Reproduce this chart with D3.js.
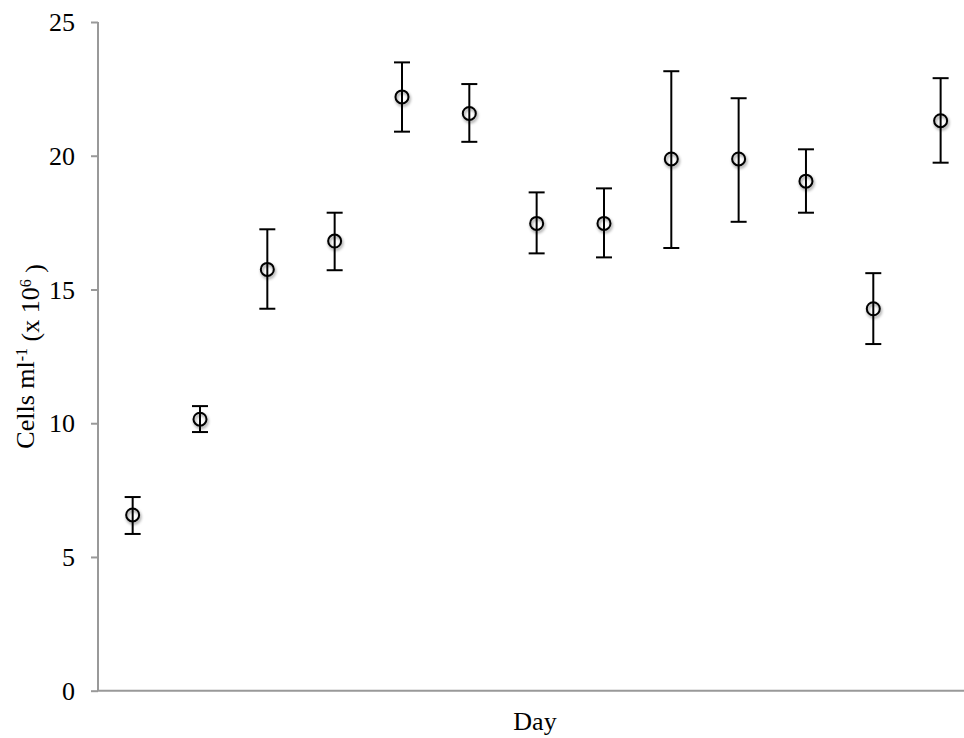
<!DOCTYPE html>
<html>
<head>
<meta charset="utf-8">
<script src="https://cdn.jsdelivr.net/npm/d3@7"></script>
<style>
  body { margin:0; background:#fff; }
  .textos { font-family:"Liberation Serif","Times New Roman",serif; fill:#000; }
</style>
</head>
<body>
<div id="zona_grafica"></div>
<script>
// datos
var dias  = ["1","2","3","4","5","6","7","8","9","10","11","12","13"]
var media = [6.57, 10.15, 15.75, 16.81, 22.2, 21.58, 17.47, 17.47, 19.88, 19.88, 19.05, 14.28, 21.31]
var sup   = [7.24, 10.64, 17.25, 17.87, 23.49, 22.68, 18.63, 18.78, 23.16, 22.15, 20.24, 15.61, 22.9]
var inf   = [5.86, 9.67, 14.28, 15.72, 20.9, 20.52, 16.35, 16.2, 16.55, 17.53, 17.87, 12.96, 19.74]
var ticksY = [0, 5, 10, 15, 20, 25]

var width = 964, height = 738
var margin = {top:22, left:98, bottom:690.7}

var datos = dias.map((d,i)=>({dia:d, m:media[i], s:sup[i], inf:inf[i]}))

var escalaX = d3.scaleBand()
    .domain(dias)
    .range([99, 99 + 13*67.33])

var escalaY = d3.scaleLinear()
    .domain([0, 25])
    .range([margin.bottom, margin.top])

var svg = d3.select("#zona_grafica")
    .append("svg")
    .attr("width", width)
    .attr("height", height)

// sombra de los circulos
svg.append("defs")
    .append("filter")
    .attr("id","sombra")
    .attr("x","-50%").attr("y","-50%").attr("width","200%").attr("height","200%")
    .append("feDropShadow")
    .attr("dx",1).attr("dy",2).attr("stdDeviation",1.8)
    .attr("flood-color","#000").attr("flood-opacity",0.45)

//Eje Y
var ejeY = d3.axisLeft(escalaY)
    .tickValues(ticksY)
    .tickSize(7)
    .tickPadding(16)
    .tickFormat(d3.format("d"))

var gY = svg.append("g")
    .attr("class","ejeY textos")
    .attr("transform","translate("+margin.left+",0)")
    .call(ejeY)
gY.select(".domain")
    .attr("fill","none")
    .attr("stroke","#999").attr("stroke-width",2)
    .attr("d","M0,"+margin.top+"V"+margin.bottom)
gY.selectAll(".tick line").attr("stroke","#999").attr("stroke-width",2)
gY.selectAll(".tick text")
    .attr("class","textos")
    .style("font-size","26px")
    .attr("dy","0.33em")

//Eje X (sin etiquetas)
svg.append("line")
    .attr("x1", margin.left - 1).attr("x2", width)
    .attr("y1", margin.bottom).attr("y2", margin.bottom)
    .attr("stroke","#999").attr("stroke-width",2)

//Titulos ejes
svg.append("text")
    .attr("class","textos")
    .attr("x", 535).attr("y", 730)
    .attr("text-anchor","middle")
    .style("font-size","26px")
    .text("Day")

var tituloY = svg.append("text")
    .attr("class","textos")
    .attr("transform","translate(34,"+(margin.top+margin.bottom)/2+") rotate(-90)")
    .attr("text-anchor","middle")
    .style("font-size","26px")
tituloY.append("tspan").text("Cells ml")
tituloY.append("tspan").attr("dy","-0.45em").style("font-size","16px").text("-1")
tituloY.append("tspan").attr("dy","0.45em").text(" (x 10")
tituloY.append("tspan").attr("dy","-0.45em").style("font-size","16px").text("6")
tituloY.append("tspan").attr("dy","0.45em").text(" )")

var cx = d=>escalaX(d.dia) + escalaX.bandwidth()/2

//Barras de error
var g = svg.append("g")
g.selectAll(".barra").data(datos).enter()
    .append("line")
    .attr("x1",cx).attr("x2",cx)
    .attr("y1",d=>escalaY(d.s)).attr("y2",d=>escalaY(d.inf))
    .attr("stroke","#000").attr("stroke-width",2)
g.selectAll(".capS").data(datos).enter()
    .append("line")
    .attr("x1",d=>cx(d)-8).attr("x2",d=>cx(d)+8)
    .attr("y1",d=>escalaY(d.s)).attr("y2",d=>escalaY(d.s))
    .attr("stroke","#000").attr("stroke-width",2)
g.selectAll(".capI").data(datos).enter()
    .append("line")
    .attr("x1",d=>cx(d)-8).attr("x2",d=>cx(d)+8)
    .attr("y1",d=>escalaY(d.inf)).attr("y2",d=>escalaY(d.inf))
    .attr("stroke","#000").attr("stroke-width",2)

//Puntos
svg.append("g")
    .selectAll("circle").data(datos).enter()
    .append("circle")
    .attr("cx",cx)
    .attr("cy",d=>escalaY(d.m))
    .attr("r",6.5)
    .attr("fill","none")
    .attr("stroke","#000")
    .attr("stroke-width",2)
    .attr("filter","url(#sombra)")
</script>
</body>
</html>
